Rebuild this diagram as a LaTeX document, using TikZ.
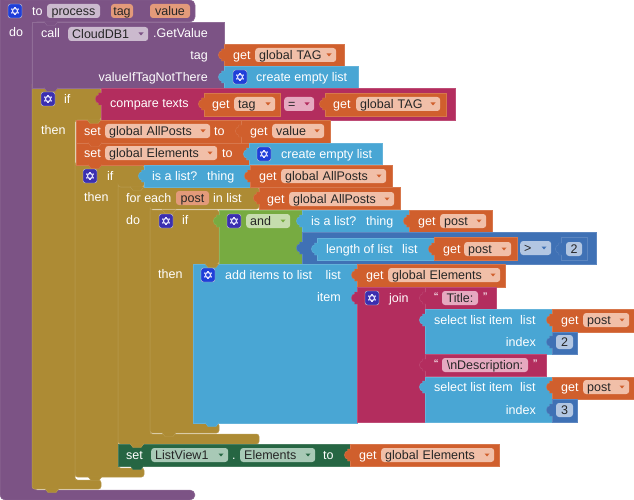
\documentclass[tikz,border=0pt]{standalone}
\usepackage{fontspec}
\setmainfont{Liberation Sans}

\definecolor{blockpurple}{HTML}{7C5385}
\definecolor{blockgold}{HTML}{AD8B34}
\definecolor{blockorange}{HTML}{D05F2D}
\definecolor{blockblue}{HTML}{49A6D4}
\definecolor{blockcrimson}{HTML}{B32D5E}
\definecolor{blockgreen}{HTML}{77AB41}
\definecolor{blocknavy}{HTML}{3F71B5}
\definecolor{blockpine}{HTML}{266643}
\definecolor{fieldpurple}{HTML}{CBBACE}
\definecolor{fieldorange}{HTML}{F1BFA8}
\definecolor{fieldcrimson}{HTML}{E6A9C0}
\definecolor{fieldgreen}{HTML}{C6DDAE}
\definecolor{fieldnavy}{HTML}{B2C6E2}
\definecolor{fieldpine}{HTML}{A8C9B6}
\definecolor{paramorange}{HTML}{E39A7A}
\definecolor{gearblue}{HTML}{1F3FD9}
\definecolor{gearindigo}{HTML}{3B2FB0}

\tikzset{
  block/.style={line width=0.5pt},
  txt/.style={font=\fontsize{12.5}{14}\selectfont, inner sep=0pt, text height=9pt, text depth=0pt},
  lbl/.style={txt, text=white, anchor=west},
  rlbl/.style={txt, text=white, anchor=east},
  field/.style={txt, text=black!85, rounded corners=3pt, anchor=west, inner xsep=4pt, minimum height=14pt, align=left},
  param/.style={txt, text=black!85, rounded corners=3pt, minimum height=14pt},
  mutator/.style={minimum size=14pt, inner sep=0pt, rounded corners=2.5pt, draw=white!65!gray, line width=0.4pt},
  pics/gear/.style={code={
    \draw[white!90!blue, line width=1.2pt] (0,0) circle (2.6);
    \foreach \a in {30,90,...,330}
    \draw[white!90!blue, line width=1.2pt] (\a:3) -- (\a:4.3);
  }},
  pics/vtab/.style={code={
    \path[pic actions] (1,-6) -- (-2.5,-6) -- (-2.5,-4)
      .. controls (-6.5,-4.5) and (-6.5,4.5) .. (-2.5,4) -- (-2.5,6) -- (1,6);
  }},
  pics/notch/.style={code={
    \path[pic actions] (-7,-0.5) -- (-4,3.5) -- (4,3.5) -- (7,-0.5);
  }},
}

\begin{document}
\begin{tikzpicture}[x=1pt,y=-1pt]
  \useasboundingbox (0,0) rectangle (634,500);

  % C-shaped blocks: header, spine and foot
  \foreach \col/\xa/\ya/\xb/\yb/\xc/\yc/\yd/\rad in {
    purple/0/0/195/22/32/490/500/5,
    gold/32/88/101/120/75/480/489/2.5,
    gold/75/165/144/187/118/468/477/2.5,
    gold/118/187/259/209/150/434/444/2.5,
    gold/150/210/219/264/193/423/433/2.5}
  \filldraw[block, fill=block\col, draw=block\col!85!white, rounded corners=\rad pt]
    (\xa,\ya) -| (\xb,\yb) -| (\xc,\yc) -| (\xb,\yd) -| (\xa,\ya) -- cycle;

  % Plain blocks, parents before children
  \foreach \col/\xa/\ya/\xb/\yb in {
    purple/32/22/224/88, orange/224/44/344/66, blue/224/66/358/88,
    crimson/101/88/455/120, orange/204/93/280/116, orange/325/93/446/116,
    orange/76/120/241/143, orange/241/120/330/143,
    orange/76/143/249/165, blue/249/143/382/164,
    blue/144/165/250/187, orange/250/165/392/187, orange/259/187/400/209,
    green/219/210/302/264, blue/302/210/409/232, orange/409/210/492/232,
    navy/302/232/596/264, blue/317/238/434/260, orange/434/237/517/260,
    navy/561/237/587/260,
    blue/193/264/357/423, orange/357/264/505/287, crimson/357/287/425/422,
    crimson/425/287/496/309, blue/425/309/552/354,
    orange/552/309/634/332, navy/552/332/577/354,
    crimson/425/354/546/376, blue/425/377/552/422,
    orange/552/377/634/399, navy/552/399/577/422,
    pine/118/444/350/466, orange/350/444/499/466}
  \filldraw[block, fill=block\col, draw=block\col!85!white]
    (\xa,\ya) rectangle (\xb,\yb);

  % Statement notches hanging from the block above
  \foreach \col/\x/\y in {
    purple/51/22, purple/51/88, gold/94/120, orange/95/143, orange/95/165,
    gold/137/187, gold/169/210, gold/212/264, blue/212/423, gold/169/433,
    gold/137/444, pine/137/466, gold/95/477, gold/52/489}
  \pic[fill=block\col, draw=block\col!85!white, line width=0.4pt] at (\x,\y) {notch};

  % Value tabs on the left edge of the plugged blocks
  \foreach \col/\x/\y in {
    orange/224/55, blue/224/77, crimson/101/99, orange/204/104, orange/325/104,
    orange/241/131, blue/249/154, blue/144/176, orange/250/176, orange/259/198,
    green/219/221, blue/302/221, orange/409/221, navy/302/248, blue/317/249,
    orange/434/249, navy/561/249, orange/357/275, crimson/357/298,
    crimson/425/298, blue/425/320, orange/552/320, navy/552/342,
    crimson/425/365, blue/425/387, orange/552/387, navy/552/410, orange/350/455}
  \pic[fill=block\col, draw=block\col!85!white, line width=0.4pt] at (\x,\y) {vtab};

  % Gear buttons
  \foreach \n/\col/\x/\y in {
    gearTo/blue/15/11, gearCreateA/blue/240/77, gearIfA/indigo/48/99,
    gearCreateB/blue/264/154, gearIfB/indigo/90/176, gearIfC/indigo/166/221,
    gearAnd/indigo/234/221, gearAdd/blue/208/275, gearJoin/indigo/372/298}
  {
    \node[mutator, fill=gear\col] (\n) at (\x,\y) {};
    \pic at (\n) {gear};
  }

  % Labels, left aligned
  \foreach \n/\x/\y/\t in {
    lblTo/32/11/to, lblDoA/9/32/do, lblCall/41/33/call, lblGetValue/153/33/.GetValue,
    lblGetA/233/55/get, lblCreateA/256/77/create empty list,
    lblIfA/64/99/if, lblThenA/41/130/then, lblCompare/110/103/compare texts,
    lblGetB/212/104/get, lblGetC/333/104/get,
    lblSetA/84/131/set, lblToA/214/131/to, lblGetD/250/131/get,
    lblSetB/84/153/set, lblToB/222/153/to, lblCreateB/281/154/create empty list,
    lblIfB/107/176/if, lblThenB/84/197/then, lblIsListA/152/176/is a list?,
    lblThingA/207/176/thing, lblGetE/259/176/get,
    lblForEach/126/198/for each, lblInList/213/198/in list, lblGetF/267/199/get,
    lblDoB/126/220/do, lblIfC/182/220/if, lblThenC/158/274/then,
    lblIsListB/311/221/is a list?, lblThingB/366/221/thing, lblGetG/418/221/get,
    lblLength/326/249/length of list, lblListA/402/249/list, lblGetH/443/249/get,
    lblAdd/225/275/add items to list, lblGetI/366/275/get, lblJoin/389/298/join,
    lblOpenA/434/297/“, lblCloseA/483/297/”,
    lblSelectA/434/320/select list item, lblListB/520/320/list, lblGetJ/561/320/get,
    lblOpenB/434/364/“, lblCloseB/533/364/”,
    lblSelectB/434/387/select list item, lblListC/520/387/list, lblGetK/561/387/get,
    lblSetC/126/455/set, lblDot/232/455/., lblToC/323/455/to, lblGetL/359/455/get}
  \node[lbl] (\n) at (\x,\y) {\t};

  % Labels, right aligned
  \foreach \n/\x/\y/\t in {
    lblTag/208/55/tag, lblNotThere/208/77/valueIfTagNotThere,
    lblListD/341/275/list, lblItem/341/297/item,
    lblIndexA/536/342/index, lblIndexB/536/410/index}
  \node[rlbl] (\n) at (\x,\y) {\t};

  % Dropdown fields
  \foreach \n/\col/\xa/\xb/\y/\t in {
    fldCloud/purple/68/148/34/CloudDB1,
    fldTagA/orange/255/336/55/global TAG,
    fldTagB/orange/234/275/104/tag, fldEq/crimson/284/314/104/=,
    fldTagC/orange/356/440/104/global TAG,
    fldPostsA/orange/105/210/131/global AllPosts, fldValue/orange/272/324/131/value,
    fldElemA/orange/105/217/153/global Elements,
    fldPostsB/orange/281/386/176/global AllPosts,
    fldPostsC/orange/289/394/199/global AllPosts,
    fldAnd/green/246/290/221/and, fldPostA/orange/440/486/221/post,
    fldPostB/orange/464/511/249/post, fldGt/navy/520/551/248/>,
    fldElemB/orange/388/500/275/global Elements,
    fldPostC/orange/583/629/320/post, fldPostD/orange/583/629/387/post,
    fldList/pine/151/228/455/ListView1, fldElem/pine/240/315/455/Elements,
    fldElemC/orange/381/494/455/global Elements}
  {
    \pgfmathsetmacro{\tw}{\xb-\xa-8}
    \node[field, fill=field\col, text width=\tw pt] (\n) at (\xa,\y) {\t};
    \fill[block\col] (\xb-9.5,\y-1.5) -- ++(5,0) -- ++(-2.5,3) -- cycle;
  }

  % Plain fields
  \foreach \n/\col/\xa/\xb/\y/\t in {
    fldProcess/fieldpurple/47/100/11/process,
    fldParamTag/paramorange/111/133/11/tag, fldParamValue/paramorange/150/190/11/value,
    fldPost/paramorange/176/209/198/post,
    fldTitle/fieldcrimson/442/478/298/Title:,
    fldDesc/fieldcrimson/442/528/365/{\textbackslash nDescription:},
    fldNumA/fieldnavy/566/582/249/2, fldNumB/fieldnavy/556/573/342/2,
    fldNumC/fieldnavy/556/573/410/3}
  {
    \pgfmathsetmacro{\tw}{\xb-\xa}
    \node[param, fill=\col, minimum width=\tw pt] (\n) at ({(\xa+\xb)/2},\y) {\t};
  }
\end{tikzpicture}
\end{document}
